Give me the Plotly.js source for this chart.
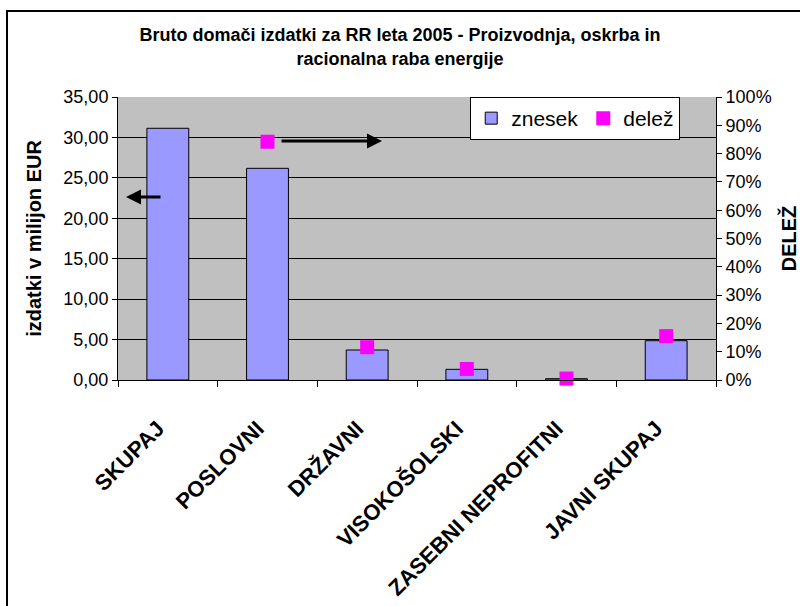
<!DOCTYPE html>
<html>
<head>
<meta charset="utf-8">
<script src="https://cdn.plot.ly/plotly-3.0.1.min.js"></script>
<style>html,body{margin:0;padding:0;background:#fff;}#chart{width:800px;height:606px;}</style>
</head>
<body>
<div id="chart"></div>
<script>
const categories = ['SKUPAJ', 'POSLOVNI', 'DRŽAVNI', 'VISOKOŠOLSKI', 'ZASEBNI NEPROFITNI', 'JAVNI SKUPAJ'];
const znesek = [31.13, 26.18, 3.71, 1.32, 0.16, 4.86];
const delez = [null, 84.2, 11.6, 3.9, 0.5, 15.5];
const leftTicks = [0, 5, 10, 15, 20, 25, 30, 35];
const rightTicks = [0, 10, 20, 30, 40, 50, 60, 70, 80, 90, 100];
const rightTickLabels = ['0%', '10%', '20%', '30%', '40%', '50%', '60%', '70%', '80%', '90%', '100%'];

const FONT = 'Liberation Sans, Arial, sans-serif';

const traces = [
  {
    type: 'bar', name: 'znesek', x: categories, y: znesek,
    marker: {color: '#9999ff', line: {color: '#000000', width: 1}},
    yaxis: 'y'
  },
  {
    type: 'scatter', mode: 'markers', name: 'delež', x: categories, y: delez,
    marker: {symbol: 'square', color: '#ff00ff', size: 14},
    yaxis: 'y2', cliponaxis: false
  }
];

const layout = {
  width: 800, height: 606,
  margin: {l: 118, r: 84, t: 97, b: 226},
  paper_bgcolor: '#ffffff',
  plot_bgcolor: '#c0c0c0',
  separators: ',.',
  font: {family: FONT, color: '#000000', size: 18},
  title: {
    text: '<b>Bruto domači izdatki za RR leta 2005 - Proizvodnja, oskrba in<br>racionalna raba energije</b>',
    font: {family: FONT, size: 18, color: '#000'},
    x: 0.5, xanchor: 'center', xref: 'container',
    y: 0.932, yanchor: 'middle', yref: 'container'
  },
  bargap: 0.58,
  showlegend: true,
  legend: {
    orientation: 'h', x: 0.589, xanchor: 'left', y: 1.0, yanchor: 'top',
    bgcolor: '#ffffff', bordercolor: '#000000', borderwidth: 1,
    font: {family: FONT, size: 21}, itemwidth: 30
  },
  xaxis: {
    type: 'category',
    tickangle: -45,
    tickfont: {family: FONT, size: 22, weight: 'bold'},
    ticklabelstandoff: 26,
    ticklabelshift: -10,
    showline: true, linecolor: '#000', linewidth: 1,
    ticks: 'outside', tickson: 'boundaries', ticklen: 6, tickcolor: '#000',
    showgrid: false, zeroline: false
  },
  yaxis: {
    range: [0, 35], tickvals: leftTicks, tickformat: '.2f',
    showgrid: true, gridcolor: '#000', gridwidth: 1,
    showline: true, linecolor: '#000', linewidth: 1,
    ticks: 'outside', ticklen: 5, tickcolor: '#000',
    zeroline: false,
    tickfont: {family: FONT, size: 18},
    title: {text: '<b>izdatki v milijon EUR</b>', font: {family: FONT, size: 20}, standoff: 16}
  },
  yaxis2: {
    overlaying: 'y', side: 'right',
    range: [0, 100], tickvals: rightTicks, ticktext: rightTickLabels,
    showgrid: false, zeroline: false,
    showline: true, linecolor: '#000', linewidth: 1,
    ticks: 'outside', ticklen: 5, tickcolor: '#000',
    tickfont: {family: FONT, size: 18},
    title: {text: '<b>DELEŽ</b>', font: {family: FONT, size: 20}, standoff: 12}
  },
  shapes: [
    {type: 'rect', xref: 'paper', yref: 'paper', x0: -0.1856, x1: 1.3, y0: -0.95, y1: 1.3039,
     line: {color: '#000', width: 2}, fillcolor: 'rgba(0,0,0,0)', layer: 'above'}
  ],
  annotations: [
    {xref: 'paper', yref: 'paper', x: 0.0134, y: 0.6466, ax: 36, ay: 0, axref: 'pixel', ayref: 'pixel',
     showarrow: true, arrowhead: 2, arrowsize: 1, arrowwidth: 3, arrowcolor: '#000', text: ''},
    {xref: 'paper', yref: 'paper', x: 0.4415, y: 0.8445, ax: -102, ay: 0, axref: 'pixel', ayref: 'pixel',
     showarrow: true, arrowhead: 2, arrowsize: 1, arrowwidth: 3, arrowcolor: '#000', text: ''}
  ]
};

Plotly.newPlot('chart', traces, layout, {displayModeBar: false, staticPlot: true});
</script>
</body>
</html>
